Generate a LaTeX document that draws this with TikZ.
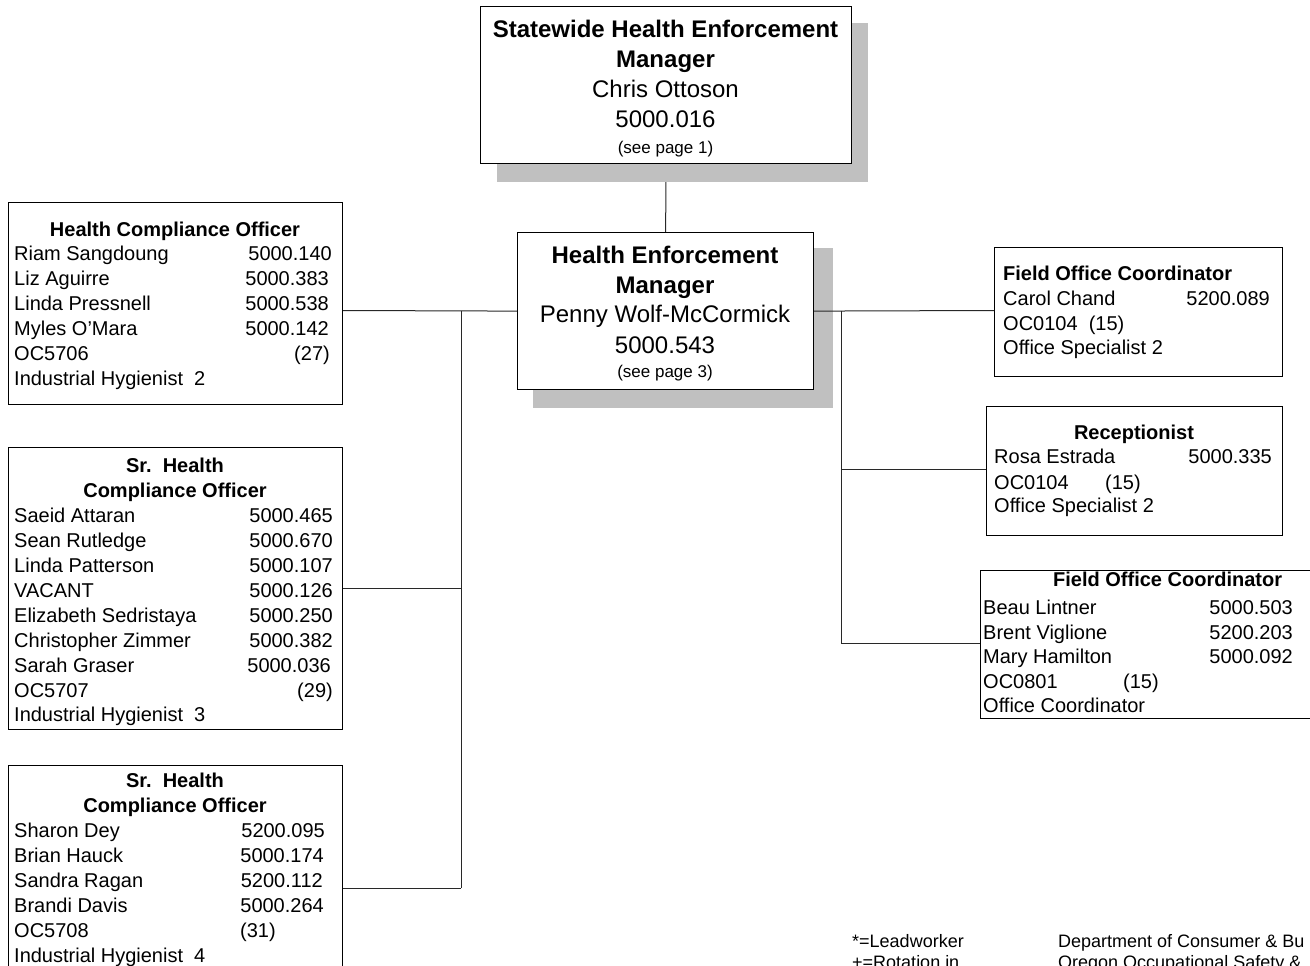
\documentclass[tikz,border=0pt]{standalone}
\usepackage{fontspec}
\setmainfont{Liberation Sans}
\definecolor{shadowgray}{HTML}{C0C0C0}
\definecolor{linegray}{HTML}{282828}
\begin{document}
\begin{tikzpicture}[x=1pt,y=-1pt,
  box/.style={draw=black, line width=1.2pt, fill=white, inner sep=0pt, anchor=north west},
  conn/.style={draw=linegray, line width=1pt},
  big/.style={inner sep=0pt, font=\fontsize{24}{28}\selectfont, anchor=base},
  bigb/.style={inner sep=0pt, font=\fontsize{24}{28}\selectfont\bfseries, anchor=base},
  note/.style={inner sep=0pt, font=\fontsize{17}{20}\selectfont, anchor=base},
  tl/.style={inner sep=0pt, font=\fontsize{20}{24}\selectfont, anchor=base west},
  tr/.style={inner sep=0pt, font=\fontsize{20}{24}\selectfont, anchor=base east},
  tt/.style={inner sep=0pt, font=\fontsize{20}{24}\selectfont\bfseries, anchor=base},
  ttl/.style={inner sep=0pt, font=\fontsize{20}{24}\selectfont\bfseries, anchor=base west},
  foot/.style={inner sep=0pt, font=\fontsize{18}{22}\selectfont, anchor=base west}]
\useasboundingbox (0,0) rectangle (1310,966);
\fill[white] (0,0) rectangle (1310,966);

% ---------- top manager ----------
\node[box, draw=none, fill=none, minimum width=371pt, minimum height=157pt] (top) at (480,6) {};
\node[box, draw=none, fill=none, minimum width=296pt, minimum height=157pt] (hem) at (517,232) {};
\draw[conn] (top.south) -- (hem.north);
\fill[shadowgray] (497,23) rectangle (868,182);
\node[box, minimum width=371pt, minimum height=157pt] (topbox) at (480,6) {};
\node[bigb] (t1) at (665.5,38) {Statewide Health Enforcement};
\node[bigb] (t2) at (665.5,67) {Manager};
\node[big] (t3) at (665.5,97) {Chris Ottoson};
\node[big] (t4) at (665.5,128) {5000.016};
\node[note] (t5) at (665.5,153) {(see page 1)};

% ---------- left boxes ----------
\node[box, minimum width=334pt, minimum height=202pt] (hco) at (8,202) {};
\node[box, minimum width=334pt, minimum height=282pt] (sr1) at (8,447) {};
\node[box, minimum width=334pt, minimum height=240pt] (sr2) at (8,765) {};

% ---------- right boxes ----------
\node[box, minimum width=288pt, minimum height=129pt] (foc1) at (994,247) {};
\node[box, minimum width=296pt, minimum height=129pt] (rec) at (986,406) {};
\node[box, minimum width=360pt, minimum height=148pt] (foc2) at (980,570) {};

% ---------- HEM shadow & connectors ----------
\fill[shadowgray] (533,248) rectangle (833,408);
\coordinate (jl1) at (461,310.5);
\coordinate (jl2) at (461,588);
\coordinate (jl3) at (461,888);
\coordinate (jr1) at (841,310.5);
\coordinate (jr2) at (841,469);
\coordinate (jr3) at (841,643);
\draw[conn] (hco.east |- jl1) -- (hem.west);
\draw[conn] (jl1) -- (jl3);
\draw[conn] (jl2) -- (sr1.east |- jl2);
\draw[conn] (jl3) -- (sr2.east |- jl3);
\draw[conn] (hem.east) -- (foc1.west |- jr1);
\draw[conn] (jr1) -- (jr3);
\draw[conn] (jr2) -- (rec.west |- jr2);
\draw[conn] (jr3) -- (foc2.west |- jr3);

\node[box, minimum width=296pt, minimum height=157pt] (hembox) at (517,232) {};
\node[bigb] (h1) at (665,263) {Health Enforcement};
\node[bigb] (h2) at (665,293) {Manager};
\node[big] (h3) at (665,322) {Penny Wolf-McCormick};
\node[big] (h4) at (665,353) {5000.543};
\node[note] (h5) at (665,377) {(see page 3)};

% ---------- HCO text ----------
\node[tt] (a0) at (175,236) {Health Compliance Officer};
\node[tl] (a1) at (14,260) {Riam Sangdoung};   \node[tr] (a1n) at (332,260) {5000.140};
\node[tl] (a2) at (14,285) {Liz Aguirre};      \node[tr] (a2n) at (329,285) {5000.383};
\node[tl] (a3) at (14,310) {Linda Pressnell};  \node[tr] (a3n) at (329,310) {5000.538};
\node[tl] (a4) at (14,335) {Myles O’Mara};     \node[tr] (a4n) at (329,335) {5000.142};
\node[tl] (a5) at (14,360) {OC5706};           \node[tr] (a5n) at (330,360) {(27)};
\node[tl] (a6) at (14,385) {Industrial Hygienist\ \ 2};

% ---------- Sr 1 text ----------
\node[tt] (b0) at (175,472) {Sr.\ \ Health};
\node[tt] (b00) at (175,497) {Compliance Officer};
\node[tl] (b1) at (14,522) {Saeid Attaran};          \node[tr] (b1n) at (333,522) {5000.465};
\node[tl] (b2) at (14,547) {Sean Rutledge};          \node[tr] (b2n) at (333,547) {5000.670};
\node[tl] (b3) at (14,572) {Linda Patterson};        \node[tr] (b3n) at (333,572) {5000.107};
\node[tl] (b4) at (14,597) {VACANT};                 \node[tr] (b4n) at (333,597) {5000.126};
\node[tl] (b5) at (14,622) {Elizabeth Sedristaya};   \node[tr] (b5n) at (333,622) {5000.250};
\node[tl] (b6) at (14,647) {Christopher Zimmer};     \node[tr] (b6n) at (333,647) {5000.382};
\node[tl] (b7) at (14,672) {Sarah Graser};           \node[tr] (b7n) at (331,672) {5000.036};
\node[tl] (b8) at (14,697) {OC5707};                 \node[tr] (b8n) at (333,697) {(29)};
\node[tl] (b9) at (14,721) {Industrial Hygienist\ \ 3};

% ---------- Sr 2 text ----------
\node[tt] (c0) at (175,787) {Sr.\ \ Health};
\node[tt] (c00) at (175,812) {Compliance Officer};
\node[tl] (c1) at (14,837) {Sharon Dey};    \node[tr] (c1n) at (325,837) {5200.095};
\node[tl] (c2) at (14,862) {Brian Hauck};   \node[tr] (c2n) at (324,862) {5000.174};
\node[tl] (c3) at (14,887) {Sandra Ragan};  \node[tr] (c3n) at (323,887) {5200.112};
\node[tl] (c4) at (14,912) {Brandi Davis};  \node[tr] (c4n) at (324,912) {5000.264};
\node[tl] (c5) at (14,937) {OC5708};        \node[tl] (c5n) at (240,937) {(31)};
\node[tl] (c6) at (14,962) {Industrial Hygienist\ \ 4};

% ---------- FOC 1 text ----------
\node[ttl] (d0) at (1003,280) {Field Office Coordinator};
\node[tl] (d1) at (1003,305) {Carol Chand};  \node[tr] (d1n) at (1270,305) {5200.089};
\node[tl] (d2) at (1003,330) {OC0104\ \ (15)};
\node[tl] (d3) at (1003,354) {Office Specialist 2};

% ---------- Receptionist text ----------
\node[tt] (e0) at (1134,439) {Receptionist};
\node[tl] (e1) at (994,463) {Rosa Estrada};  \node[tr] (e1n) at (1272,463) {5000.335};
\node[tl] (e2) at (994,489) {OC0104};        \node[tl] (e2n) at (1105,489) {(15)};
\node[tl] (e3) at (994,512) {Office Specialist 2};

% ---------- FOC 2 text ----------
\node[ttl] (f0) at (1053,586) {Field Office Coordinator};
\node[tl] (f1) at (983,614) {Beau Lintner};    \node[tr] (f1n) at (1293,614) {5000.503};
\node[tl] (f2) at (983,639) {Brent Viglione};  \node[tr] (f2n) at (1293,639) {5200.203};
\node[tl] (f3) at (983,663) {Mary Hamilton};   \node[tr] (f3n) at (1293,663) {5000.092};
\node[tl] (f4) at (983,688) {OC0801};          \node[tl] (f4n) at (1123,688) {(15)};
\node[tl] (f5) at (983,712) {Office Coordinator};

% ---------- footer ----------
\node[foot] (g1) at (852,947) {*=Leadworker};
\node[foot] (g2) at (852,968) {+=Rotation in};
\node[foot] (g3) at (1058,947) {Department of Consumer \& Bu};
\node[foot] (g4) at (1058,968) {Oregon Occupational Safety \&};
\end{tikzpicture}
\end{document}
